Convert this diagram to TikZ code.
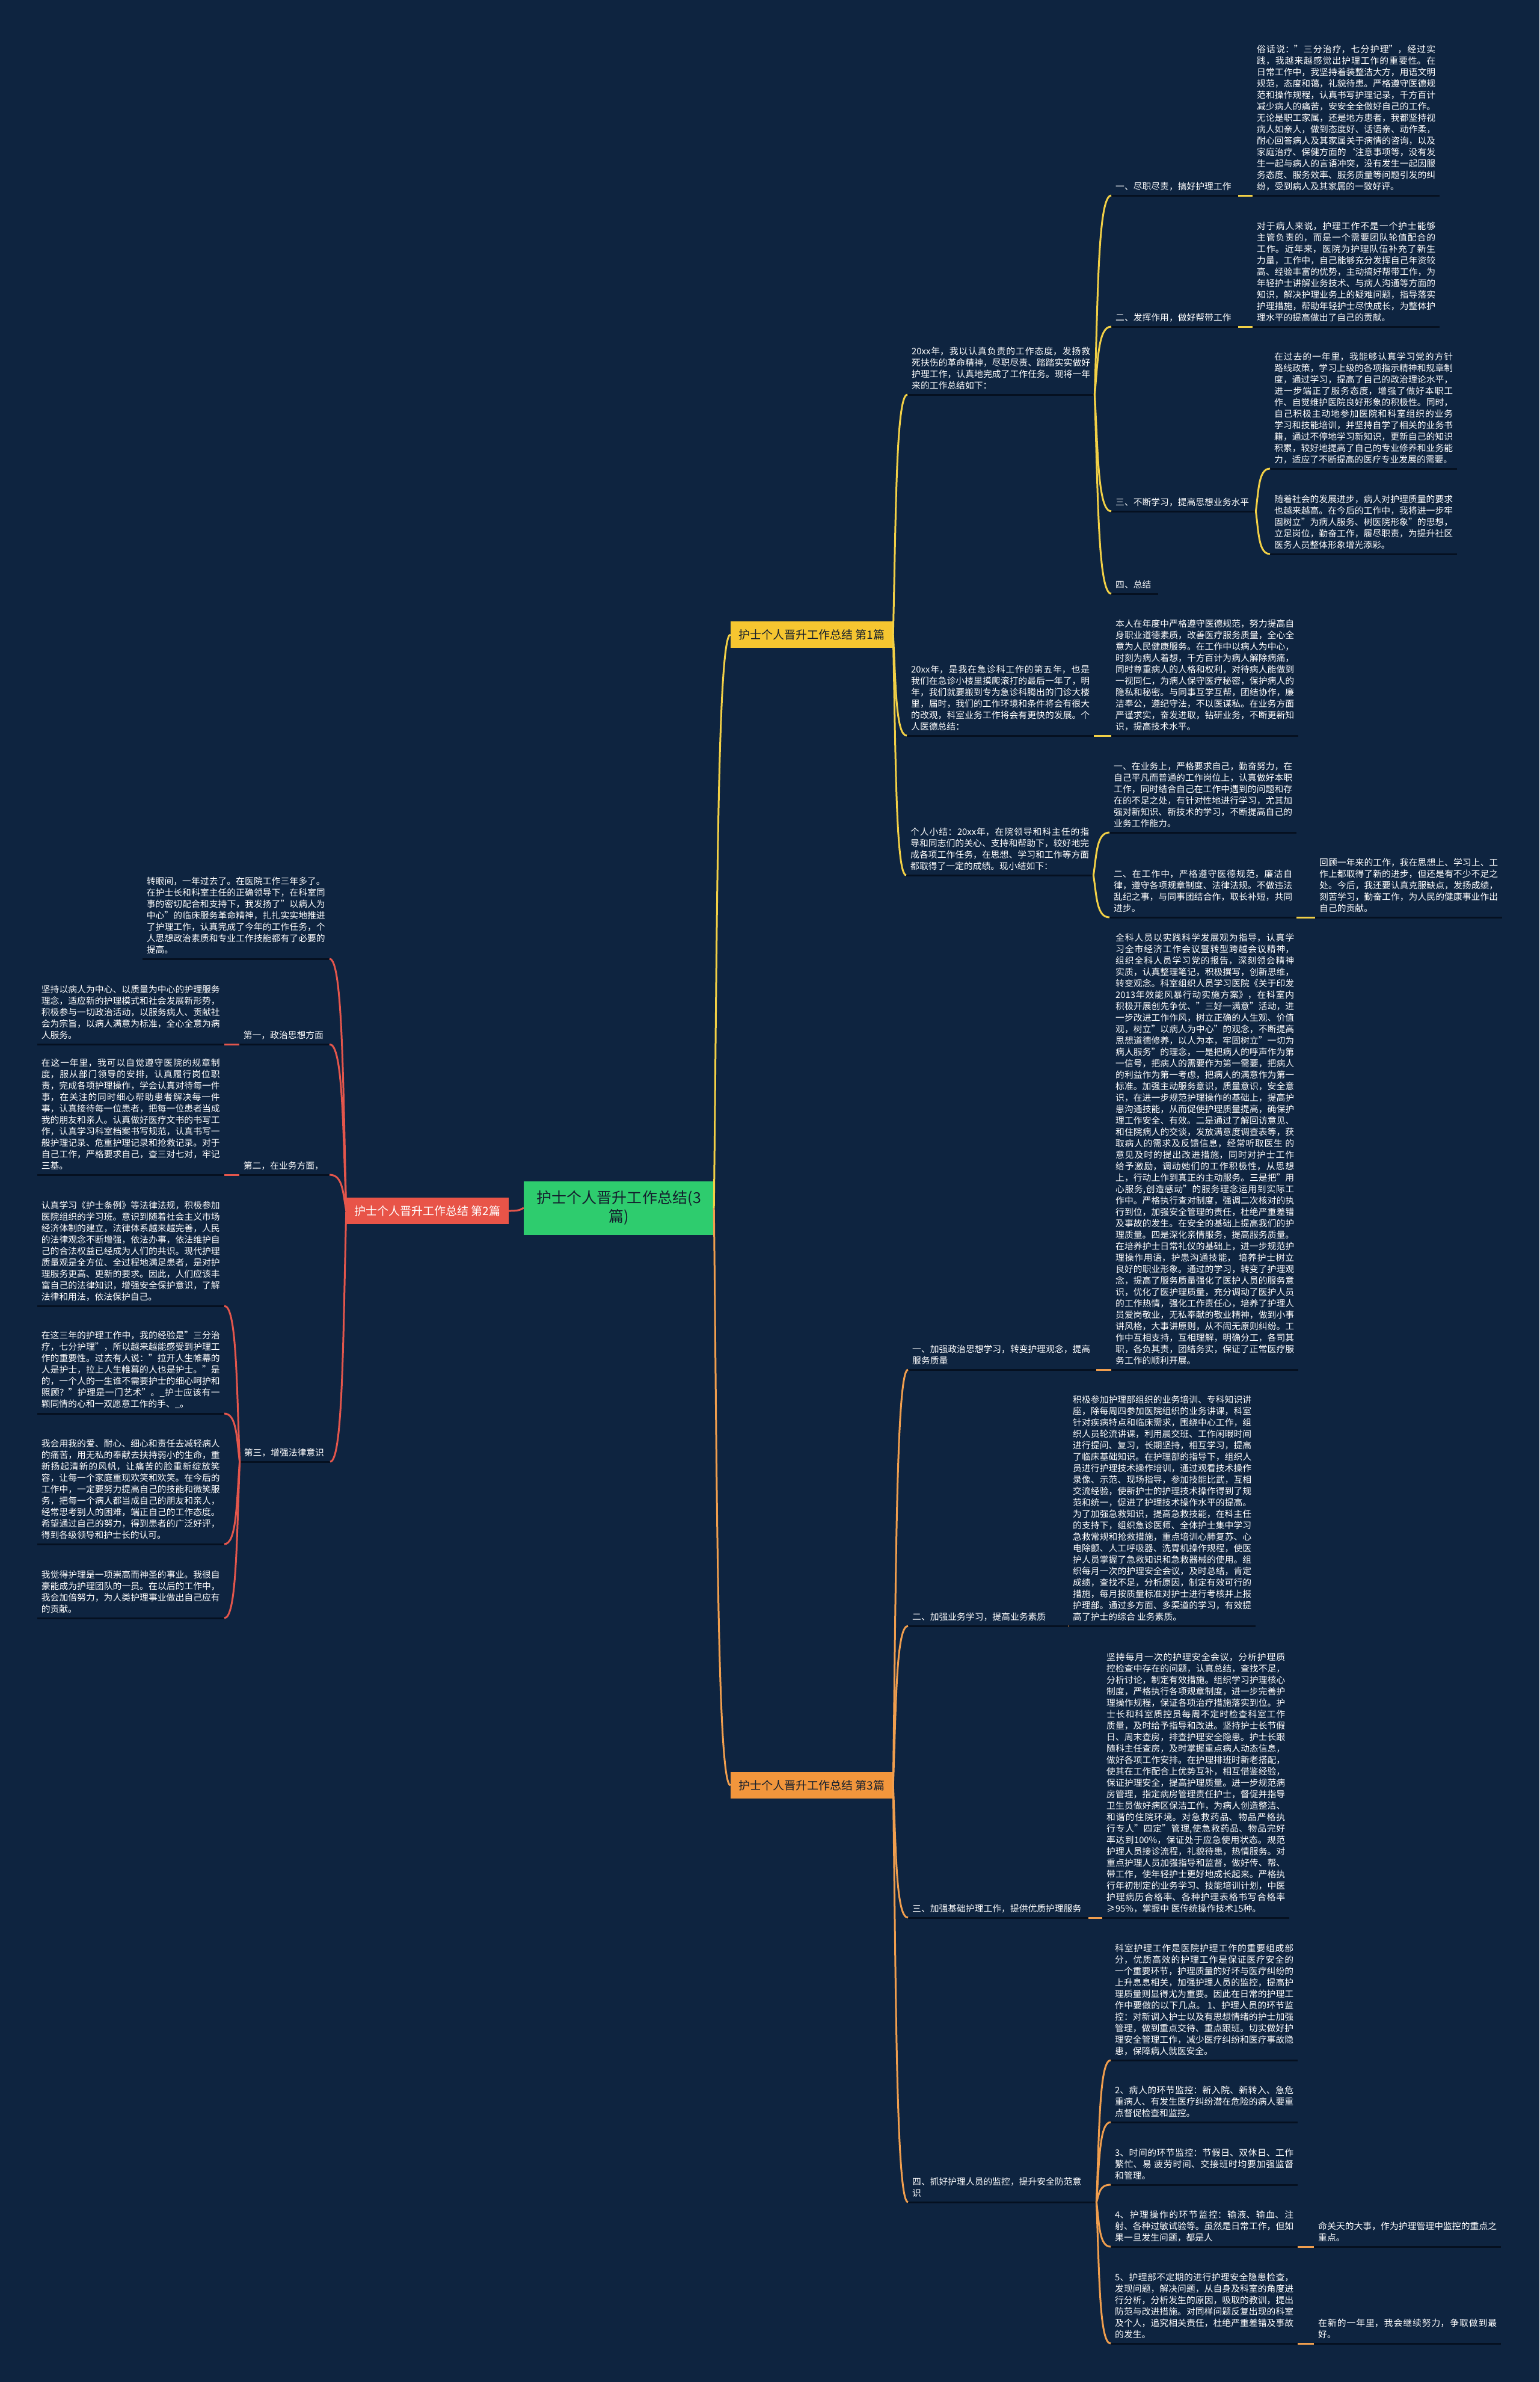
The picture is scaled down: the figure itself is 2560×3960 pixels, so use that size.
\documentclass[tikz,border=0pt]{standalone}
\usepackage{fontspec}
\setmainfont{Noto Sans CJK SC}
\XeTeXlinebreaklocale "zh"
\XeTeXlinebreakskip=0pt plus 1pt
\usetikzlibrary{calc}
\definecolor{bgc}{RGB}{14,36,64}
\definecolor{ulc}{RGB}{5,16,32}
\definecolor{yl}{RGB}{242,208,70}
\definecolor{ylf}{RGB}{246,198,48}
\definecolor{rd}{RGB}{228,86,76}
\definecolor{rdf}{RGB}{232,84,72}
\definecolor{og}{RGB}{240,158,78}
\definecolor{ogf}{RGB}{242,150,60}
\definecolor{gn}{RGB}{46,204,110}
\definecolor{ink}{RGB}{20,30,45}
\newcommand\mmlink[3]{\draw[#1,line width=3pt] let \p1=(#2), \p2=(#3) in (\p1) .. controls ({\x1+0.2*(\x2-\x1)},{\y1+0.5*(\y2-\y1)}) and ({\x1+0.2*(\x2-\x1)},{\y2}) .. (\p2);}
\tikzset{
 uline/.style={draw=ulc,line width=3pt},
 para/.style={text=white,font=\fontsize{14.8}{19}\selectfont,text width=297pt,align=justify,inner xsep=7pt,inner ysep=8pt,
   append after command={(\tikzlastnode.south west) edge[uline] (\tikzlastnode.south east)}},
 lab/.style={para,text width=#1,align=left},
 box/.style={font=\fontsize{19}{23}\selectfont,minimum width=270pt,minimum height=44pt,inner sep=2pt},
}
\begin{document}
\begin{tikzpicture}[x=1pt,y=-1pt]
\fill[bgc] (0,0) rectangle (2560,3960);
\useasboundingbox (0,0) rectangle (2560,3960);

% centre and main branches
\node[fill=gn,text=ink,font=\fontsize{25}{31}\selectfont,minimum width=316pt,minimum height=89pt,align=center,text width=290pt] (C) at (1029,2008) {护士个人晋升工作总结(3\\篇)};
\node[box,fill=ylf,text=ink] (B1) at (1350,1055) {护士个人晋升工作总结 第1篇};
\node[box,fill=rdf,text=white] (B2) at (711,2013) {护士个人晋升工作总结 第2篇};
\node[box,fill=ogf,text=ink] (B3) at (1350,2968) {护士个人晋升工作总结 第3篇};

% ---------- branch 1 ----------
\node[para,anchor=south west] (c11) at (1509,656) {20xx年，我以认真负责的工作态度，发扬救死扶伤的革命精神，尽职尽责、踏踏实实做好护理工作，认真地完成了工作任务。现将一年来的工作总结如下：};
\node[para,anchor=south west] (c12) at (1508,1223) {20xx年，是我在急诊科工作的第五年，也是我们在急诊小楼里摸爬滚打的最后一年了，明年，我们就要搬到专为急诊科腾出的门诊大楼里，届时，我们的工作环境和条件将会有很大的改观，科室业务工作将会有更快的发展。个人医德总结：};
\node[para,anchor=south west] (c13) at (1507,1455) {个人小结：20xx年，在院领导和科主任的指导和同志们的关心、支持和帮助下，较好地完成各项工作任务，在思想、学习和工作等方面都取得了一定的成绩。现小结如下：};

\node[lab=197pt,anchor=south west] (d1) at (1848,325) {一、尽职尽责，搞好护理工作};
\node[lab=197pt,anchor=south west] (d2) at (1848,543) {二、发挥作用，做好帮带工作};
\node[lab=226pt,anchor=south west] (d3) at (1848,850) {三、不断学习，提高思想业务水平};
\node[lab=64pt,anchor=south west] (d4) at (1848,987) {四、总结};

\node[para,anchor=south west] (e1) at (2083,325) {俗话说："三分治疗，七分护理"，经过实践，我越来越感觉出护理工作的重要性。在日常工作中，我坚持着装整洁大方，用语文明规范，态度和蔼，礼貌待患。严格遵守医德规范和操作规程，认真书写护理记录，千方百计减少病人的痛苦，安安全全做好自己的工作。无论是职工家属，还是地方患者，我都坚持视病人如亲人，做到态度好、话语亲、动作柔，耐心回答病人及其家属关于病情的咨询，以及家庭治疗、保健方面的\char"60注意事项等，没有发生一起与病人的言语冲突，没有发生一起因服务态度、服务效率、服务质量等问题引发的纠纷，受到病人及其家属的一致好评。};
\node[para,anchor=south west] (e2) at (2083,543) {对于病人来说，护理工作不是一个护士能够主管负责的，而是一个需要团队轮值配合的工作。近年来，医院为护理队伍补充了新生力量，工作中，自己能够充分发挥自己年资较高、经验丰富的优势，主动搞好帮带工作，为年轻护士讲解业务技术、与病人沟通等方面的知识，解决护理业务上的疑难问题，指导落实护理措施，帮助年轻护士尽快成长，为整体护理水平的提高做出了自己的贡献。};
\node[para,anchor=south west] (e3) at (2112,779) {在过去的一年里，我能够认真学习党的方针路线政策，学习上级的各项指示精神和规章制度，通过学习，提高了自己的政治理论水平，进一步端正了服务态度，增强了做好本职工作、自觉维护医院良好形象的积极性。同时，自己积极主动地参加医院和科室组织的业务学习和技能培训，并坚持自学了相关的业务书籍，通过不停地学习新知识，更新自己的知识积累，较好地提高了自己的专业修养和业务能力，适应了不断提高的医疗专业发展的需要。};
\node[para,anchor=south west] (e4) at (2112,921) {随着社会的发展进步，病人对护理质量的要求也越来越高。在今后的工作中，我将进一步牢固树立"为病人服务、树医院形象"的思想，立足岗位，勤奋工作，履尽职责，为提升社区医务人员整体形象增光添彩。};
\node[para,anchor=south west] (e5) at (1848,1223) {本人在年度中严格遵守医德规范，努力提高自身职业道德素质，改善医疗服务质量，全心全意为人民健康服务。在工作中以病人为中心，时刻为病人着想，千方百计为病人解除病痛，同时尊重病人的人格和权利，对待病人能做到一视同仁，为病人保守医疗秘密，保护病人的隐私和秘密。与同事互学互帮，团结协作，廉洁奉公，遵纪守法，不以医谋私。在业务方面严谨求实，奋发进取，钻研业务，不断更新知识，提高技术水平。};
\node[para,anchor=south west] (e6) at (1845,1384) {一、在业务上，严格要求自己，勤奋努力，在自己平凡而普通的工作岗位上，认真做好本职工作，同时结合自己在工作中遇到的问题和存在的不足之处，有针对性地进行学习，尤其加强对新知识、新技术的学习，不断提高自己的业务工作能力。};
\node[para,anchor=south west] (e7) at (1845,1525) {二、在工作中，严格遵守医德规范，廉洁自律，遵守各项规章制度、法律法规。不做违法乱纪之事，与同事团结合作，取长补短，共同进步。};
\node[para,anchor=south west] (e8) at (2187,1525) {回顾一年来的工作，我在思想上、学习上、工作上都取得了新的进步，但还是有不少不足之处。今后，我还要认真克服缺点，发扬成绩，刻苦学习，勤奋工作，为人民的健康事业作出自己的贡献。};

% ---------- branch 3 ----------
\node[lab=299pt,anchor=south west] (f1) at (1510,2277) {一、加强政治思想学习，转变护理观念，提高\\服务质量};
\node[lab=253pt,anchor=south west] (f2) at (1510,2703) {二、加强业务学习，提高业务素质};
\node[lab=286pt,anchor=south west] (f3) at (1510,3188) {三、加强基础护理工作，提供优质护理服务};
\node[lab=299pt,anchor=south west] (f4) at (1510,3661) {四、抓好护理人员的监控，提升安全防范意\\识};

\node[para,anchor=south west] (g1) at (1848,2277) {全科人员以实践科学发展观为指导，认真学习全市经济工作会议暨转型跨越会议精神，组织全科人员学习党的报告，深刻领会精神实质，认真整理笔记，积极撰写，创新思维，转变观念。科室组织人员学习医院《关于印发2013年效能风暴行动实施方案》，在科室内积极开展创先争优、"三好一满意"活动，进一步改进工作作风，树立正确的人生观、价值观，树立"以病人为中心"的观念，不断提高思想道德修养，以人为本，牢固树立"一切为病人服务"的理念，一是把病人的呼声作为第一信号，把病人的需要作为第一需要，把病人的利益作为第一考虑，把病人的满意作为第一标准。加强主动服务意识，质量意识，安全意识，在进一步规范护理操作的基础上，提高护患沟通技能，从而促使护理质量提高，确保护理工作安全、有效。二是通过了解回访意见、和住院病人的交谈，发放满意度调查表等，获取病人的需求及反馈信息，经常听取医生 的意见及时的提出改进措施，同时对护士工作给予激励，调动她们的工作积极性，从思想上，行动上作到真正的主动服务。三是把"用心服务,创造感动"的服务理念运用到实际工作中。严格执行查对制度，强调二次核对的执行到位，加强安全管理的责任，杜绝严重差错及事故的发生。在安全的基础上提高我们的护理质量。四是深化亲情服务，提高服务质量。在培养护士日常礼仪的基础上，进一步规范护理操作用语，护患沟通技能， 培养护士树立良好的职业形象。通过的学习，转变了护理观念，提高了服务质量强化了医护人员的服务意识，优化了医护理质量，充分调动了医护人员的工作热情，强化工作责任心，培养了护理人员爱岗敬业，无私奉献的敬业精神，做到小事讲风格，大事讲原则，从不闹无原则纠纷。工作中互相支持，互相理解，明确分工，各司其职，各负其责，团结务实，保证了正常医疗服务工作的顺利开展。};
\node[para,anchor=south west] (g2) at (1777,2703) {积极参加护理部组织的业务培训、专科知识讲座，除每周四参加医院组织的业务讲课，科室针对疾病特点和临床需求，围绕中心工作，组织人员轮流讲课，利用晨交班、工作闲暇时间进行提问、复习，长期坚持，相互学习，提高了临床基础知识。在护理部的指导下，组织人员进行护理技术操作培训，通过观看技术操作录像、示范、现场指导，参加技能比武，互相交流经验，使新护士的护理技术操作得到了规范和统一，促进了护理技术操作水平的提高。为了加强急救知识，提高急救技能，在科主任的支持下，组织急诊医师、全体护士集中学习急救常规和抢救措施，重点培训心肺复苏、心电除颤、人工呼吸器、洗胃机操作规程，使医护人员掌握了急救知识和急救器械的使用。组织每月一次的护理安全会议，及时总结，肯定成绩，查找不足，分析原因，制定有效可行的措施，每月按质量标准对护士进行考核并上报护理部。通过多方面、多渠道的学习，有效提高了护士的综合 业务素质。};
\node[para,anchor=south west] (g3) at (1833,3188) {坚持每月一次的护理安全会议，分析护理质控检查中存在的问题，认真总结，查找不足，分析讨论，制定有效措施。组织学习护理核心制度，严格执行各项规章制度，进一步完善护理操作规程，保证各项治疗措施落实到位。护士长和科室质控员每周不定时检查科室工作质量，及时给予指导和改进。坚持护士长节假日、周末查房，排查护理安全隐患。护士长跟随科主任查房，及时掌握重点病人动态信息，做好各项工作安排。在护理排班时新老搭配，使其在工作配合上优势互补，相互借鉴经验，保证护理安全，提高护理质量。进一步规范病房管理，指定病房管理责任护士，督促并指导卫生员做好病区保洁工作，为病人创造整洁、和谐的住院环境。对急救药品、物品严格执行专人"四定"管理,使急救药品、物品完好率达到100\%，保证处于应急使用状态。规范护理人员接诊流程，礼貌待患，热情服务。对重点护理人员加强指导和监督，做好传、帮、带工作，使年轻护士更好地成长起来。严格执行年初制定的业务学习、技能培训计划，中医护理病历合格率、各种护理表格书写合格率≥95\%，掌握中 医传统操作技术15种。};
\node[para,anchor=south west] (h1) at (1847,3425) {科室护理工作是医院护理工作的重要组成部分，优质高效的护理工作是保证医疗安全的一个重要环节，护理质量的好坏与医疗纠纷的上升息息相关，加强护理人员的监控，提高护理质量则显得尤为重要。因此在日常的护理工作中要做的以下几点。 1、护理人员的环节监控：对新调入护士以及有思想情绪的护士加强管理，做到重点交待、重点跟班。切实做好护理安全管理工作，减少医疗纠纷和医疗事故隐患，保障病人就医安全。};
\node[para,anchor=south west] (h2) at (1847,3528) {2、病人的环节监控：新入院、新转入、急危重病人、有发生医疗纠纷潜在危险的病人要重点督促检查和监控。};
\node[para,anchor=south west] (h3) at (1847,3632) {3、时间的环节监控：节假日、双休日、工作繁忙、易 疲劳时间、交接班时均要加强监督和管理。};
\node[para,anchor=south west] (h4) at (1847,3735) {4、护理操作的环节监控：输液、输血、注射、各种过敏试验等。虽然是日常工作，但如果一旦发生问题，都是人};
\node[para,anchor=south west] (h5) at (1847,3896) {5、护理部不定期的进行护理安全隐患检查，发现问题，解决问题，从自身及科室的角度进行分析，分析发生的原因，吸取的教训，提出防范与改进措施。对同样问题反复出现的科室及个人，追究相关责任，杜绝严重差错及事故的发生。};
\node[para,anchor=south west] (i1) at (2185,3735) {命关天的大事，作为护理管理中监控的重点之重点。};
\node[para,anchor=south west] (i2) at (2185,3896) {在新的一年里，我会继续努力，争取做到最好。};

% ---------- branch 2 ----------
\node[para,anchor=south east] (j0) at (548,1594) {转眼间，一年过去了。在医院工作三年多了。在护士长和科室主任的正确领导下，在科室同事的密切配合和支持下，我发扬了"以病人为中心"的临床服务革命精神，扎扎实实地推进了护理工作，认真完成了今年的工作任务，个人思想政治素质和专业工作技能都有了必要的提高。};
\node[lab=136pt,anchor=south east] (j1) at (548,1736) {第一，政治思想方面};
\node[lab=136pt,anchor=south east] (j2) at (548,1953) {第二，在业务方面，};
\node[lab=136pt,anchor=south east] (j3) at (549,2430) {第三，增强法律意识};
\node[para,anchor=south east] (k1) at (373,1736) {坚持以病人为中心、以质量为中心的护理服务理念，适应新的护理模式和社会发展新形势，积极参与一切政治活动，以服务病人、贡献社会为宗旨，以病人满意为标准，全心全意为病人服务。};
\node[para,anchor=south east] (k2) at (373,1953) {在这一年里，我可以自觉遵守医院的规章制度，服从部门领导的安排，认真履行岗位职责，完成各项护理操作，学会认真对待每一件事，在关注的同时细心帮助患者解决每一件事，认真接待每一位患者，把每一位患者当成我的朋友和亲人。认真做好医疗文书的书写工作，认真学习科室档案书写规范，认真书写一般护理记录、危重护理记录和抢救记录。对于自己工作，严格要求自己，查三对七对，牢记三基。};
\node[para,anchor=south east] (k3) at (373,2171) {认真学习《护士条例》等法律法规，积极参加医院组织的学习班。意识到随着社会主义市场经济体制的建立，法律体系越来越完善，人民的法律观念不断增强，依法办事，依法维护自己的合法权益已经成为人们的共识。现代护理质量观是全方位、全过程地满足患者，是对护理服务更高、更新的要求。因此，人们应该丰富自己的法律知识，增强安全保护意识，了解法律和用法，依法保护自己。};
\node[para,anchor=south east] (k4) at (373,2350) {在这三年的护理工作中，我的经验是"三分治疗，七分护理"，所以越来越能感受到护理工作的重要性。过去有人说："拉开人生帷幕的人是护士，拉上人生帷幕的人也是护士。"是的，一个人的一生谁不需要护士的细心呵护和照顾？"护理是一门艺术"。\_护士应该有一颗同情的心和一双愿意工作的手、\_。};
\node[para,anchor=south east] (k5) at (373,2567) {我会用我的爱、耐心、细心和责任去减轻病人的痛苦，用无私的奉献去扶持弱小的生命，重新扬起清新的风帆，让痛苦的脸重新绽放笑容，让每一个家庭重现欢笑和欢笑。在今后的工作中，一定要努力提高自己的技能和微笑服务，把每一个病人都当成自己的朋友和亲人，经常思考别人的困难，端正自己的工作态度。希望通过自己的努力，得到患者的广泛好评，得到各级领导和护士长的认可。};
\node[para,anchor=south east] (k6) at (373,2690) {我觉得护理是一项崇高而神圣的事业。我很自豪能成为护理团队的一员。在以后的工作中，我会加倍努力，为人类护理事业做出自己应有的贡献。};

% ---------- connectors ----------
\mmlink{yl}{C.east}{B1.west}
\mmlink{og}{C.east}{B3.west}
\mmlink{rd}{C.west}{B2.east}

\mmlink{yl}{B1.east}{c11.south west}
\mmlink{yl}{B1.east}{c12.south west}
\mmlink{yl}{B1.east}{c13.south west}
\foreach \t in {d1,d2,d3,d4}{\mmlink{yl}{c11.south east}{\t.south west}}
\mmlink{yl}{d1.south east}{e1.south west}
\mmlink{yl}{d2.south east}{e2.south west}
\mmlink{yl}{d3.south east}{e3.south west}
\mmlink{yl}{d3.south east}{e4.south west}
\mmlink{yl}{c12.south east}{e5.south west}
\mmlink{yl}{c13.south east}{e6.south west}
\mmlink{yl}{c13.south east}{e7.south west}
\mmlink{yl}{e7.south east}{e8.south west}

\foreach \t in {f1,f2,f3,f4}{\mmlink{og}{B3.east}{\t.south west}}
\mmlink{og}{f1.south east}{g1.south west}
\mmlink{og}{f2.south east}{g2.south west}
\mmlink{og}{f3.south east}{g3.south west}
\foreach \t in {h1,h2,h3,h4,h5}{\mmlink{og}{f4.south east}{\t.south west}}
\mmlink{og}{h4.south east}{i1.south west}
\mmlink{og}{h5.south east}{i2.south west}

\foreach \t in {j0,j1,j2,j3}{\mmlink{rd}{B2.west}{\t.south east}}
\mmlink{rd}{j1.south west}{k1.south east}
\mmlink{rd}{j2.south west}{k2.south east}
\foreach \t in {k3,k4,k5,k6}{\mmlink{rd}{j3.south west}{\t.south east}}
\end{tikzpicture}
\end{document}
